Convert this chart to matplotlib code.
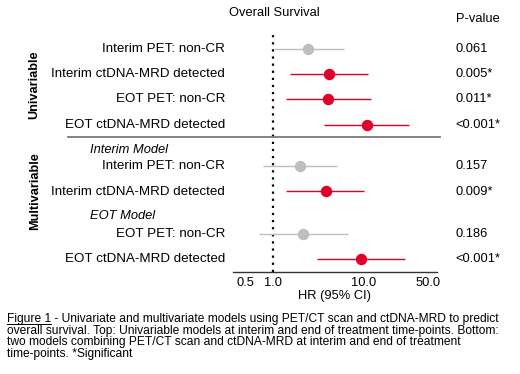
import matplotlib
matplotlib.use("Agg")
import matplotlib.pyplot as plt
from matplotlib.lines import Line2D

plt.rcParams['font.family'] = ['Liberation Sans', 'DejaVu Sans']

# ---------------- data ----------------
uni_labels = ["Interim PET: non-CR", "Interim ctDNA-MRD detected",
              "EOT PET: non-CR", "EOT ctDNA-MRD detected"]
uni_hr = [2.45, 4.1, 4.0, 10.8]
uni_lo = [1.02, 1.55, 1.39, 3.67]
uni_hi = [6.1, 11.0, 11.8, 31.3]
uni_p = ["0.061", "0.005*", "0.011*", "<0.001*"]
uni_sig = [False, True, True, True]

multi_labels = ["Interim PET: non-CR", "Interim ctDNA-MRD detected",
                "EOT PET: non-CR", "EOT ctDNA-MRD detected"]
multi_hr = [2.0, 3.8, 2.13, 9.2]
multi_lo = [0.78, 1.40, 0.70, 3.03]
multi_hi = [5.0, 10.1, 6.6, 28.1]
multi_p = ["0.157", "0.009*", "0.186", "<0.001*"]
multi_sig = [False, True, False, True]

model_titles = ["Interim Model", "EOT Model"]
xticks = [0.5, 1.0, 10.0, 50.0]
xticklabels = ["0.5", "1.0", "10.0", "50.0"]

caption = ["Figure 1",
           " - Univariate and multivariate models using PET/CT scan and ctDNA-MRD to predict",
           "overall survival. Top: Univariable models at interim and end of treatment time-points. Bottom:",
           "two models combining PET/CT scan and ctDNA-MRD at interim and end of treatment",
           "time-points. *Significant"]

# ---------------- layout (pixel coordinates) ----------------
W, H = 520, 374
RED = "#E0002A"
GREY = "#BEBEBE"
uni_y = [49, 74, 99.5, 125]
multi_y = [166, 191.5, 234, 259]
model_y = [150.5, 216]
sep_y = 136.5
ax_left, ax_right = 233, 437
ax_top, ax_bot = 35, 271.5

fig = plt.figure(figsize=(W / 100, H / 100), dpi=100)
ax = fig.add_axes([ax_left / W, 1 - ax_bot / H, (ax_right - ax_left) / W, (ax_bot - ax_top) / H])
ax.set_xscale('log')
ax.set_xlim(0.367, 63)
ax.set_ylim(ax_bot, ax_top)
for s in ['top', 'right', 'left']:
    ax.spines[s].set_visible(False)
ax.spines['bottom'].set_color('#333333')
ax.spines['bottom'].set_linewidth(1.0)
ax.set_yticks([])
ax.set_xticks(xticks)
ax.set_xticklabels(xticklabels)
ax.minorticks_off()
ax.tick_params(axis='x', length=0, pad=4, labelsize=9.3)
ax.set_xlabel("HR (95% CI)", fontsize=9.3, labelpad=1)

ax.axvline(1.0, color='black', linestyle=(0, (1, 2.2)), lw=1.6, zorder=1)


def draw(ys, hr, lo, hi, sig):
    for y, h, l, u, s in zip(ys, hr, lo, hi, sig):
        c = RED if s else GREY
        ax.plot([l, u], [y, y], color=c, lw=1.0, zorder=2, solid_capstyle='butt')
        ax.plot([h], [y], 'o', color=c, ms=7.2, mec=c, zorder=3)


draw(uni_y, uni_hr, uni_lo, uni_hi, uni_sig)
draw(multi_y, multi_hr, multi_lo, multi_hi, multi_sig)

# separator line
fig.add_artist(Line2D([68 / W, 440 / W], [1 - sep_y / H, 1 - sep_y / H],
                      color='#7a7a7a', lw=1.3))

def fy(py):
    return 1 - py / H

lab_x = 225 / W
for y, t in zip(uni_y, uni_labels):
    fig.text(lab_x, fy(y), t, ha='right', va='center', fontsize=9.6)
for y, t in zip(multi_y, multi_labels):
    fig.text(lab_x, fy(y), t, ha='right', va='center', fontsize=9.6)
for y, t in zip(model_y, model_titles):
    fig.text(90 / W, fy(y), t, ha='left', va='center', fontsize=9.3, style='italic')

p_x = 455 / W
for y, t in zip(uni_y, uni_p):
    fig.text(p_x, fy(y), t, ha='left', va='center', fontsize=9.3)
for y, t in zip(multi_y, multi_p):
    fig.text(p_x, fy(y), t, ha='left', va='center', fontsize=9.3)

fig.text(478 / W, fy(19), "P-value", ha='center', va='center', fontsize=9.3)
fig.text(274.5 / W, fy(13), "Overall Survival", ha='center', va='center', fontsize=9.3)

fig.text(34 / W, fy(84.5), "Univariable", rotation=90, ha='center', va='center',
         fontsize=9.2, fontweight='bold')
fig.text(35 / W, fy(191), "Multivariable", rotation=90, ha='center', va='center',
         fontsize=9.2, fontweight='bold')

# caption
cap_fs = 8.65
cap_x = 7 / W
cap_base = [322.3, 333.8, 345.2, 356.6]
t0 = fig.text(cap_x, fy(cap_base[0]), caption[0], ha='left', va='baseline', fontsize=cap_fs)
fig.canvas.draw()
r = fig.canvas.get_renderer()
bb = t0.get_window_extent(renderer=r)
fig.text(bb.x1 / W, fy(cap_base[0]), caption[1], ha='left', va='baseline', fontsize=cap_fs)
ul = H - cap_base[0] - 1.8
fig.add_artist(Line2D([bb.x0 / W, bb.x1 / W], [ul / H, ul / H], color='black', lw=0.7))
for y, t in zip(cap_base[1:], caption[2:]):
    fig.text(cap_x, fy(y), t, ha='left', va='baseline', fontsize=cap_fs)

fig.savefig("out.png", dpi=100)
